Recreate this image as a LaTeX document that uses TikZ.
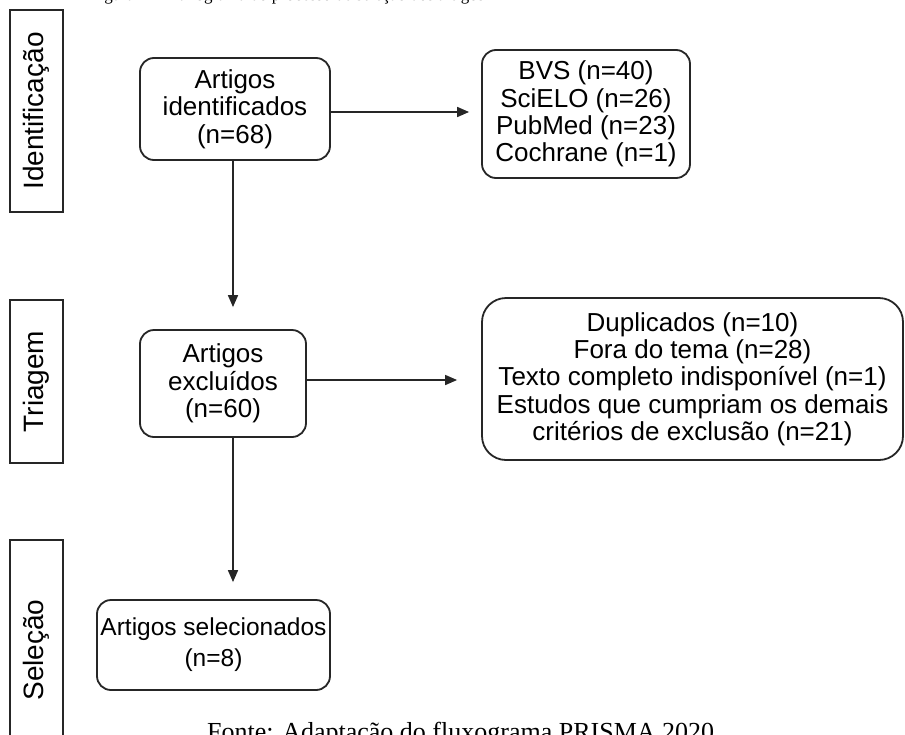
\documentclass[tikz,border=0pt]{standalone}
\usepackage{fontspec}
\setmainfont{Liberation Serif}
\newfontfamily\boxfont{Liberation Sans}
\usetikzlibrary{arrows.meta,calc}

\begin{document}
\begin{tikzpicture}[x=1pt,y=-1pt,
  box/.style={draw=black!85, line width=1.8pt, rounded corners=14pt, align=center,
    font=\boxfont\fontsize{26}{27.3}\selectfont, inner sep=0pt, fill=white},
  stage/.style={draw=black!85, line width=1.8pt, rotate=90, inner sep=0pt,
    font=\boxfont\fontsize{28}{30}\selectfont},
  flow/.style={-{Triangle[length=12pt,width=10pt]}, line width=1.6pt, draw=black!85}]

\clip (0,0) rectangle (905,734);
\fill[white] (0,0) rectangle (905,734);

% figure title and source line
\node[anchor=base west, inner sep=0pt, font=\fontsize{17}{20}\selectfont] (title) at (90,0)
  {Figura 1 – Fluxograma do processo de seleção dos artigos};
\node[anchor=base west, inner sep=0pt, font=\fontsize{26}{30}\selectfont] (source) at (207,740)
  {Fonte: Adaptação do fluxograma PRISMA 2020};

% stage labels
\node[stage, minimum width=202pt, minimum height=53pt] (sIdent) at (36.5,111) {Identificação};
\node[stage, minimum width=163pt, minimum height=53pt] (sTriag) at (36.5,381.5) {Triagem};
\node[stage, minimum width=220pt, minimum height=53pt] (sSel) at (36.5,650) {Seleção};

% flow boxes
\node[box, minimum width=190pt, minimum height=102pt] (ident) at (235,109)
  {Artigos\\identificados\\(n=68)};
\node[box, minimum width=208pt, minimum height=128pt] (bases) at (586,114)
  {BVS (n=40)\\SciELO (n=26)\\PubMed (n=23)\\Cochrane (n=1)};
\node[box, minimum width=166pt, minimum height=107pt] (excl) at (223,383.5)
  {Artigos\\excluídos\\(n=60)};
\node[box, rounded corners=24pt, minimum width=421pt, minimum height=162pt] (motivos) at (692.5,379)
  {Duplicados (n=10)\\Fora do tema (n=28)\\Texto completo indisponível (n=1)\\Estudos que cumpriam os demais\\critérios de exclusão (n=21)};
\node[box, font=\boxfont\fontsize{24.5}{31}\selectfont, minimum width=233pt, minimum height=90pt] (sel) at (213.5,645)
  {Artigos selecionados\\(n=8)};

% connectors
\draw[flow, shorten >=12pt] (ident.east |- 0,112) -- (bases.west |- 0,112);
\draw[flow, shorten >=24pt] (excl.east |- 0,380) -- (motivos.west |- 0,380);
\draw[flow, shorten >=22pt] (ident.south -| 233,0) -- (excl.north -| 233,0);
\draw[flow, shorten >=17pt] (excl.south -| 233,0) -- (sel.north -| 233,0);
\end{tikzpicture}
\end{document}
